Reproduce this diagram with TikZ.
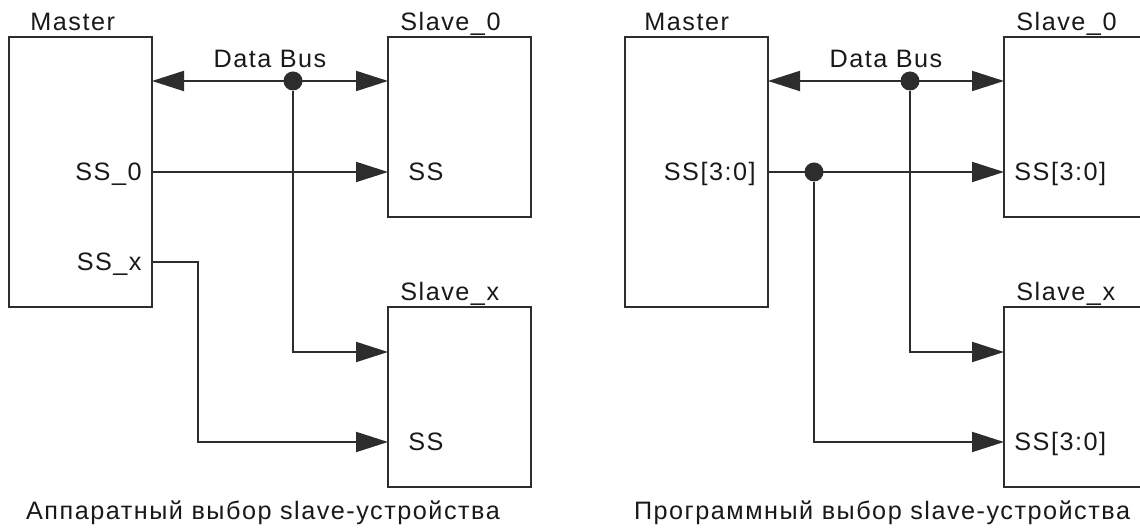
\documentclass[tikz,border=0pt]{standalone}
\usepackage{fontspec}
\setmainfont{Liberation Sans}[LetterSpace=6]
\usetikzlibrary{positioning}
\usetikzlibrary{arrows.meta}
\usetikzlibrary{calc}
\definecolor{figLinea}{RGB}{45,45,45}
\definecolor{figTexto}{RGB}{25,25,25}
\tikzset{
  caja/.style={
    rectangle, draw=figLinea, line width=1pt, fill=white,
    minimum width=71.5pt, inner sep=0pt, outer sep=0pt
  },
  cajam/.style={caja, minimum height=135pt},
  cajas/.style={caja, minimum height=90pt},
  texto/.style={font=\fontsize{12.6}{15}\selectfont, text=figTexto, inner sep=0pt},
  punto/.style={circle, fill=figLinea, inner sep=0pt, minimum size=9.5pt},
  cable/.style={line width=1pt, draw=figLinea},
  flecha/.style={cable, -{Triangle[length=16pt, width=10pt]}},
  flechas/.style={cable, {Triangle[length=16pt, width=10pt]}-{Triangle[length=16pt, width=10pt]}}
}
\begin{document}
\begin{tikzpicture}[x=0.5pt, y=-0.5pt]
  \useasboundingbox (0,0) rectangle (1140,528);
  \clip (0,0) rectangle (1140,528);
  % aparatny
  \node[cajam, anchor=north west] (masterA) at (9,37) {};
  \node[cajas, right=118pt of masterA.north east, anchor=north west] (slave0A) {};
  \node[cajas, below=45pt of slave0A.south west, anchor=north west] (slavexA) {};
  \node[texto, anchor=base west] (tmA) at ($(masterA.north west)+(21,-6)$) {Master};
  \node[texto, anchor=base west] (t0A) at ($(slave0A.north west)+(12,-6)$) {Slave\_0};
  \node[texto, anchor=base west] (txA) at ($(slavexA.north west)+(12,-6)$) {Slave\_x};
  \node[texto, anchor=base] (busTA) at ($(masterA.north east)!0.5!(slave0A.north west)+(0,31)$) {Data Bus};
  \node[texto, anchor=base east] (ss0A) at ($(masterA.north east)+(-10,144)$) {SS\_0};
  \node[texto, anchor=base east] (ssxA) at ($(masterA.north east)+(-10,234)$) {SS\_x};
  \node[texto, anchor=base west] (in0A) at ($(slave0A.north west)+(20,144)$) {SS};
  \node[texto, anchor=base west] (inxA) at ($(slavexA.north west)+(20,144)$) {SS};
  \node[texto, anchor=base] (capA) at ($(masterA.north west)+(254,483)$) {Аппаратный выбор slave-устройства};
  \draw[flechas] ($(masterA.north east)+(0,44)$) -- ($(slave0A.north west)+(0,44)$);
  \node[punto] (busA) at ($(masterA.north east)+(141,44)$) {};
  \draw[flecha] (busA) |- ($(slavexA.north west)+(0,45)$);
  \draw[flecha] ($(masterA.north east)+(0,135)$) -- ($(slave0A.north west)+(0,135)$);
  \draw[flecha] ($(masterA.north east)+(0,225)$) -- ++(46,0) |- ($(slavexA.north west)+(0,135)$);
  % programmny
  \begin{scope}[xshift=308pt]
    \node[cajam, anchor=north west] (masterB) at (9,37) {};
    \node[cajas, right=118pt of masterB.north east, anchor=north west] (slave0B) {};
    \node[cajas, below=45pt of slave0B.south west, anchor=north west] (slavexB) {};
    \node[texto, anchor=base west] (tmB) at ($(masterB.north west)+(19,-6)$) {Master};
    \node[texto, anchor=base west] (t0B) at ($(slave0B.north west)+(12,-6)$) {Slave\_0};
    \node[texto, anchor=base west] (txB) at ($(slavexB.north west)+(12,-6)$) {Slave\_x};
    \node[texto, anchor=base] (busTB) at ($(masterB.north east)!0.5!(slave0B.north west)+(0,31)$) {Data Bus};
    \node[texto, anchor=base east] (ssB) at ($(masterB.north east)+(-12,144)$) {SS[3:0]};
    \node[texto, anchor=base west] (in0B) at ($(slave0B.north west)+(10,144)$) {SS[3:0]};
    \node[texto, anchor=base west] (inxB) at ($(slavexB.north west)+(10,144)$) {SS[3:0]};
    \node[texto, anchor=base] (capB) at ($(masterB.north west)+(257,483)$) {Программный выбор slave-устройства};
    \draw[flechas] ($(masterB.north east)+(0,44)$) -- ($(slave0B.north west)+(0,44)$);
    \node[punto] (busB) at ($(masterB.north east)+(142,44)$) {};
    \draw[flecha] (busB) |- ($(slavexB.north west)+(0,45)$);
    \draw[flecha] ($(masterB.north east)+(0,135)$) -- ($(slave0B.north west)+(0,135)$);
    \node[punto] (selB) at ($(masterB.north east)+(46,135)$) {};
    \draw[flecha] (selB) |- ($(slavexB.north west)+(0,135)$);
  \end{scope}
\end{tikzpicture}
\end{document}
